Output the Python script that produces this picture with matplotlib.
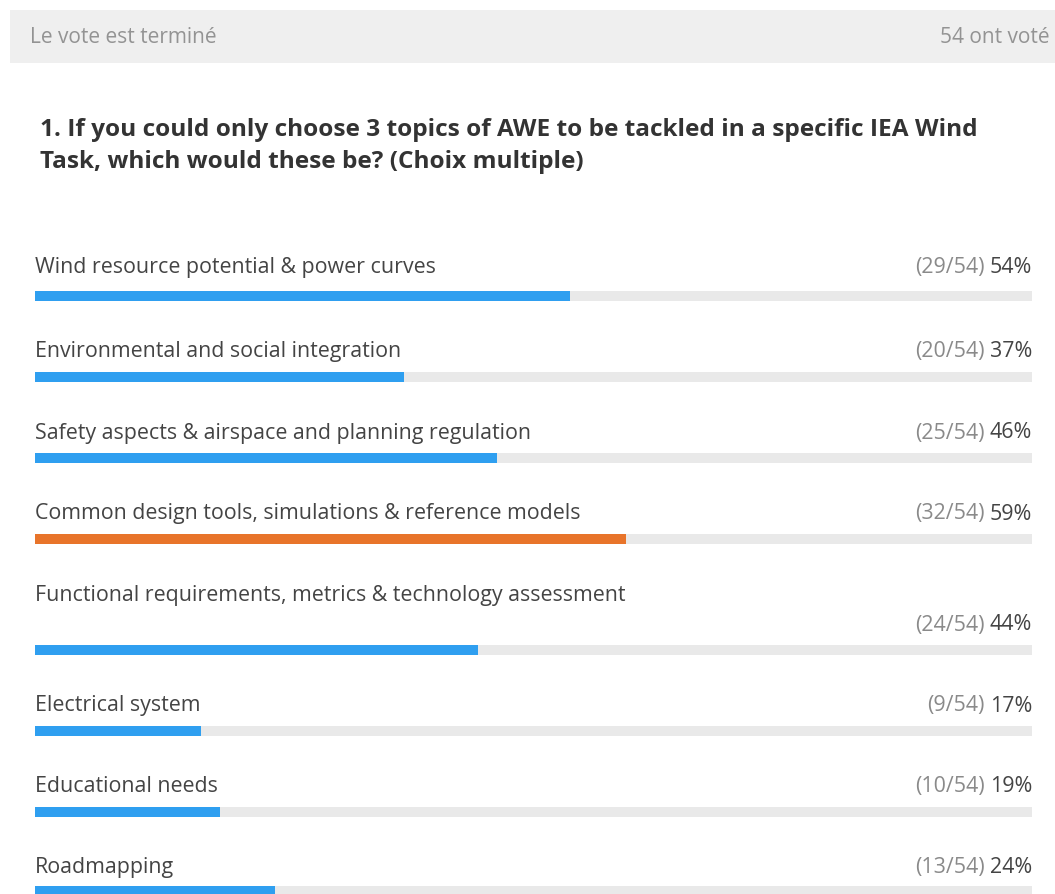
import matplotlib.pyplot as plt
from matplotlib.patches import Rectangle

# poll data
topics = [
    "Wind resource potential & power curves",
    "Environmental and social integration",
    "Safety aspects & airspace and planning regulation",
    "Common design tools, simulations & reference models",
    "Functional requirements, metrics & technology assessment",
    "Electrical system",
    "Educational needs",
    "Roadmapping",
]
votes = [29, 20, 25, 32, 24, 9, 10, 13]
total = 54
top_index = 3

header_left = "Le vote est terminé"
header_right = f"{total} ont voté"
question = ("1. If you could only choose 3 topics of AWE to be tackled in a specific IEA Wind\n"
            "Task, which would these be? (Choix multiple)")

# layout (pixels)
label_y = [267, 351, 433, 514, 595, 706, 787, 868]
count_y = [267, 351, 433, 514, 625, 706, 787, 868]
bar_y = [297, 378, 459, 540, 651, 732, 813, 892]
x0, x1 = 35, 1032
track_w = x1 - x0

blue = "#2f9ff0"
orange = "#e8742a"
track = "#e9e9e9"
dark = "#444444"
grey = "#8a8a8a"

plt.rcParams['font.family'] = ['Open Sans', 'DejaVu Sans']

fig = plt.figure(figsize=(10.55, 8.95), dpi=100)
ax = fig.add_axes([0, 0, 1, 1])
ax.set_xlim(0, 1055)
ax.set_ylim(895, 0)
ax.axis('off')

# header band
ax.add_patch(Rectangle((10, 11), 1055, 53, color="#efefef", lw=0))
ax.text(30, 37, header_left, fontsize=15, color="#939393", va='center', ha='left')
ax.text(1050, 37, header_right, fontsize=15, color="#939393", va='center', ha='right')

ax.text(40, 146, question, fontsize=17.6, fontweight='bold', color="#333333",
        va='center', ha='left', linespacing=1.45)

fracs = [v / total for v in votes]
colors = [orange if i == top_index else blue for i in range(len(votes))]
ax.barh(bar_y, [track_w] * len(votes), left=x0, height=10, color=track, lw=0)
ax.barh(bar_y, [f * track_w for f in fracs], left=x0, height=10, color=colors, lw=0)

fig.canvas.draw()
renderer = fig.canvas.get_renderer()
inv = ax.transData.inverted()
for i, name in enumerate(topics):
    ax.text(x0, label_y[i], name, fontsize=15.4, color=dark, va='center', ha='left')
    pct = ax.text(x1, count_y[i], f"{round(fracs[i] * 100)}%", fontsize=15.4,
                  color=dark, va='center', ha='right')
    bb = pct.get_window_extent(renderer)
    left = inv.transform((bb.x0, bb.y0))[0]
    ax.text(left - 5, count_y[i], f"({votes[i]}/{total})", fontsize=15.4,
            color=grey, va='center', ha='right')

fig.savefig("out.png", dpi=100)
